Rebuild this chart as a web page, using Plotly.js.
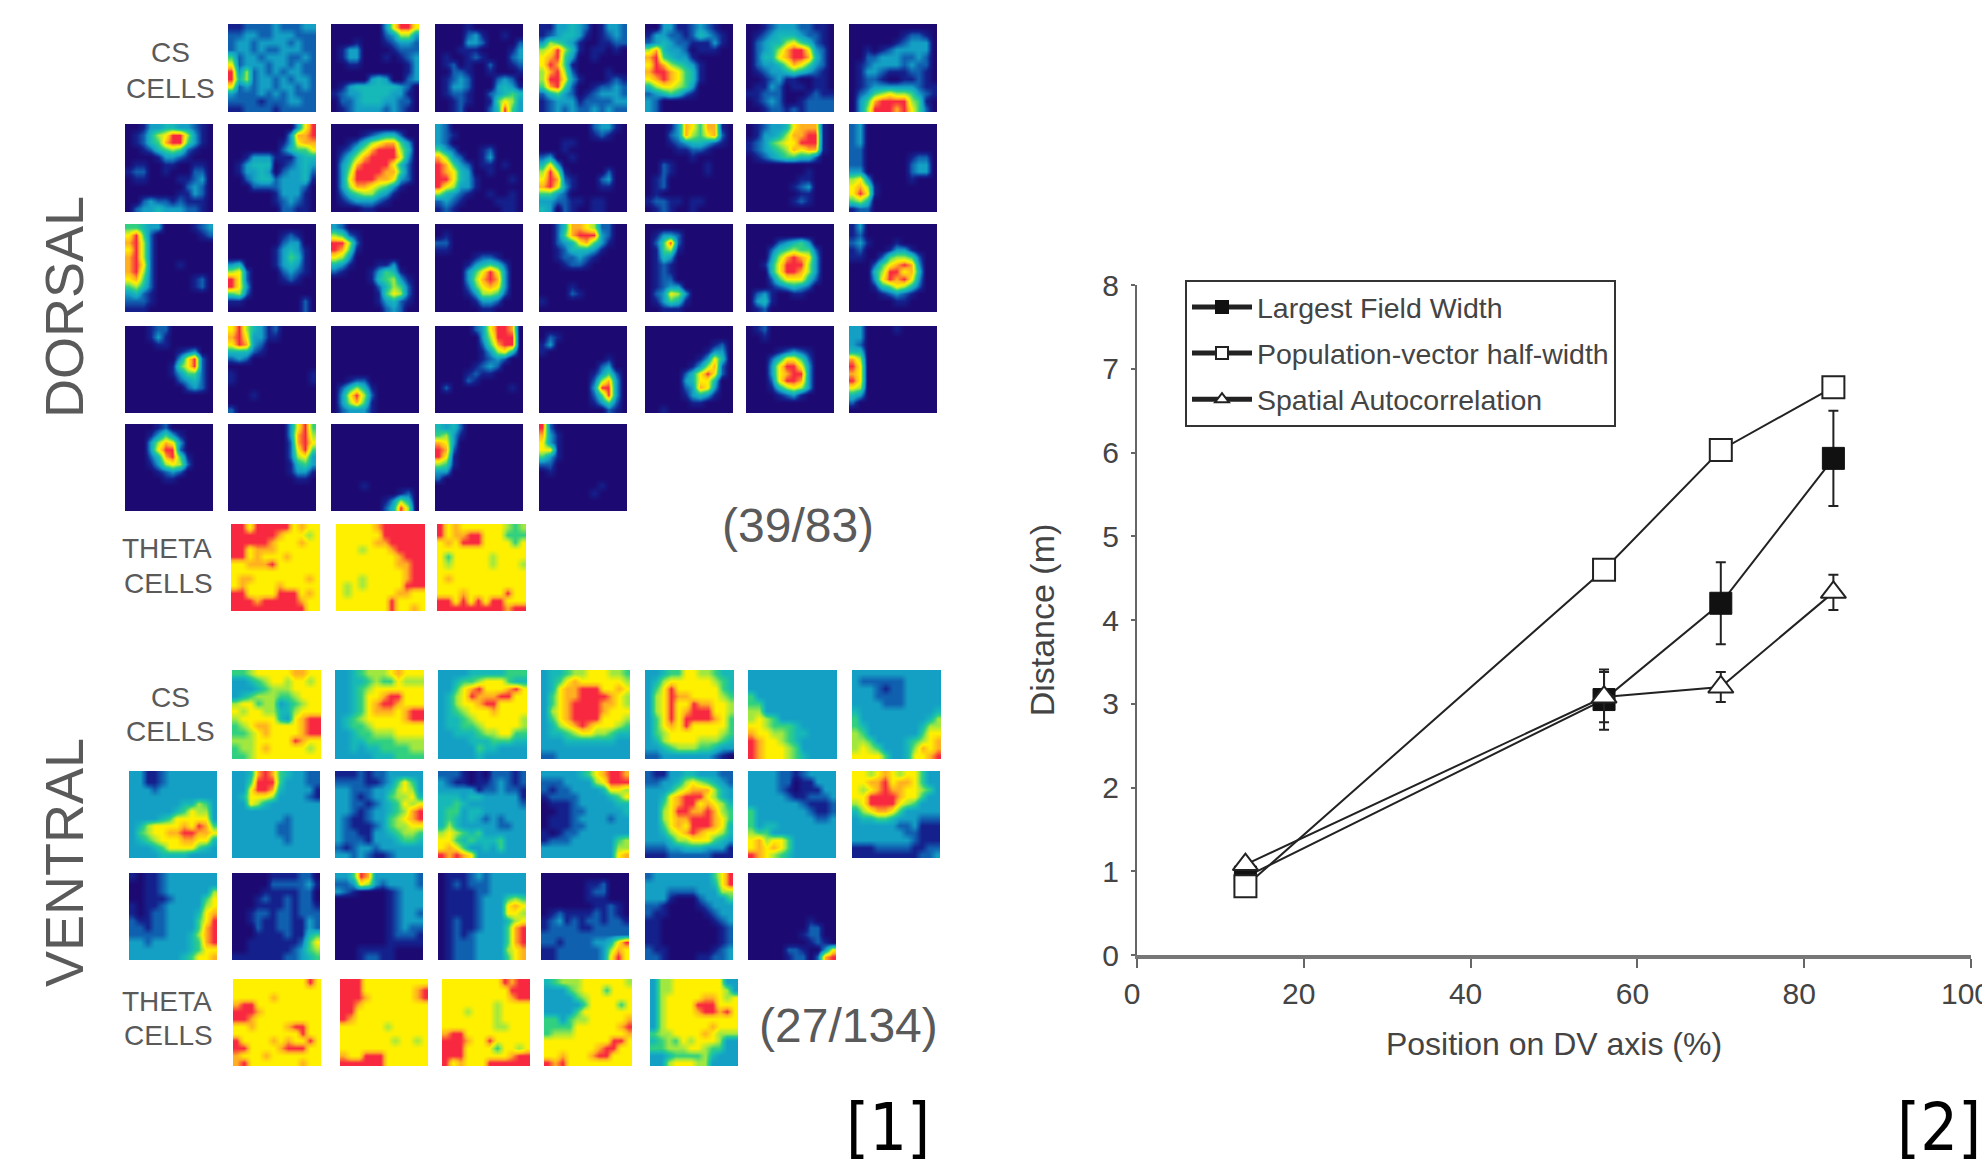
<!DOCTYPE html>
<html><head><meta charset="utf-8">
<script src="https://cdn.plot.ly/plotly-3.0.1.min.js"></script>
<style>html,body{margin:0;padding:0;background:#fff}#c{width:1982px;height:1167px}</style>
</head><body><div id="c"></div>
<script>
// --- Line chart values ---
const dvPosition = [13, 56, 70, 83.5];
const largestFieldWidth = [0.93, 3.05, 4.2, 5.93];
const largestFieldErr = [0.05, 0.36, 0.49, 0.57];
const populationVector = [0.82, 4.6, 6.03, 6.78];
const spatialAutocorr = [1.08, 3.08, 3.2, 4.33];
const spatialErr = [0.05, 0.3, 0.18, 0.21];
const seriesNames = ['Largest Field Width', 'Population-vector half-width', 'Spatial Autocorrelation'];
const xTicks = [0, 20, 40, 60, 80, 100];
const yTicks = [0, 1, 2, 3, 4, 5, 6, 7, 8];

// --- Firing-rate maps, 0 (navy) to 9 (red), one string per row ---
const dorsalCsRow1 = [
["112222322233","223322333222","233233332322","233232233322","523323332232","723332332322","936232323322","946233232332","723233233232","322232323222","222212223322","112222122222"],
["000000037997","000000023663","000100012332","013300001222","013300010123","001100000013","000000000013","000003430023","013444444320","123344443310","022344433220","012333323210"],
["000010000000","000023100100","000033200002","000111000013","010012100023","012010020012","002210010001","012320002320","013320003431","012210023454","001210015763","001200024953"],
["113343201332","123443101232","365431001122","679641011010","789530010000","798510000000","689620000100","699731000121","589520012232","245320123332","123331222233","123232232322"],
["003311232100","133221243210","234322111310","684332011100","895433100000","798654310000","899875410000","789875410000","467765300000","234542100000","320000000000","320000000000"],
["001233322110","012344432210","023446754210","023468997320","024478998420","023346875320","012334543210","001231100110","011320110110","112220001211","012320012222","001221212222"],
["000000000000","000000012210","000000123330","001012333330","002233322320","012333323220","013321112210","012210011210","012333333211","023567665321","035899996510","036999897520"]
];
const dorsalCsRow2 = [
["001334433210","012467996310","012458995310","001245652100","000013321000","011001100110","122001000220","011000011230","000000002320","000000011320","002322121110","023343332210"],
["000000000379","000000003889","000000013788","000000024557","001333111344","013444012343","013343023342","002344233341","000222233320","000000133310","000000123210","000000022110"],
["000000000000","000012344200","001246788530","012468999640","024689999730","035899997420","036999988520","037999887320","036887653100","024566431000","012333210000","000011000000"],
["320000000000","321000000000","320000000000","532000120000","863200130000","985320110100","987430010000","997431000010","976331000000","643210010010","232100001110","121000000110"],
["000000023310","000000012100","000110000000","000100000000","230010000000","473000000000","696100000200","798210002300","897310001100","553200000000","332211011000","430210011000"],
["000138758810","000238657820","000123443210","000011221000","000000100000","002100001000","002100001000","012000000000","012000000000","010000000000","122110110000","012100100000"],
["012334788810","013346889910","123567799910","123456878810","012345544200","000000000000","000000001000","000000011000","000000123000","000000011000","000000121000","000000000000"],
["230000000000","230000000000","230000000000","220000000000","220000001220","220000002330","330000002330","673000001000","786100000000","797100000000","564000000000","122000000000"]
];
const dorsalCsRow3 = [
["554330000123","795200000012","896200000000","796200000000","896200000000","897200010000","896200000000","785200000120","564200000120","342100000000","222100000000","111000000000"],
["000000000000","000000012100","000000023300","000000134310","000000135410","340000134310","672000023210","972000012100","973000000000","562000000000","110000000020","000000000020"],
["320000000000","652100000000","996200000000","985100000000","763000000000","431000113000","210001354100","000001456310","000000246520","000000157620","000000134210","000000023200"],
["000000000000","010000000000","220000000000","110000000000","000001221000","000013454200","000035797300","000036898300","000025787300","000013665200","000001332000","000000110000"],
["002488762200","002589993200","002347853100","001244431000","001223210000","000122100000","000000000000","000000000000","000010000000","000021000000","100000000000","000000000000"],
["000000000000","013320000000","025920000000","015610000000","014300000000","012100000000","012100000000","012200000000","012330000000","023763000000","013541000000","001110000000"],
["000000000000","000000000000","000023453000","000245655200","000368987300","001479996300","000479986300","000257774200","000123432000","023100110000","034100000000","012000000000"],
["130000000000","120000000000","231000100000","120001331000","110025665200","000257898300","000469978400","000379897300","000145764200","000012321000","000000110000","000000000000"]
];
const dorsalCsRow4 = [
["000122000000","000131000000","000011000000","000000012300","000000037920","000000157920","000000135520","000000023420","000000002320","000000000000","000000000000","000000000000"],
["796431200000","897331100000","798320000000","444210000000","232000000000","000000000000","100000000001","100000000001","000000000000","000100000000","000000000000","200000000000"],
["000000000000","000000000000","000000000000","000000000000","000000000000","000000000000","000000000000","001220000000","024641000000","037962000000","036851000000","023331000000"],
["000002379980","000000369990","000000258990","000000136740","000000123200","000001232000","000012110000","000021000000","020000000010","000000000000","000000000000","000000000000"],
["000000000000","021000000000","130000000000","100000000000","000000000100","000000002300","000000013520","000000026830","000000039930","000000025930","000000013520","000000000210"],
["000000000000","000000000000","000000000120","000000001330","000000013740","000000136820","000002479720","000003477400","000002387300","000001343100","000000110000","001000000000"],
["012000000000","001000000000","000000000000","000012321000","000247752000","000379973000","000378993000","000279983000","000146763000","000012310000","000000000000","000000000000"],
["330000100000","330000000000","320000000000","440000000000","860000000000","970000000000","870000000000","970000000000","760000000000","430000000000","200000000000","000000000000"]
];
const dorsalCsRow5 = [
["000012000000","000135310000","000368730000","000379920000","000248951000","000136762000","000012320000","000001100000","000000000000","000000000000","000000000000","000000000000"],
["000000003795","000000003896","000000002897","000000002795","000000002673","000000001453","000000001331","000000000110","000000000000","000000000000","000000000000","000000000000"],
["000000000000","000000000000","000000000000","000000000000","000000000000","000000000000","000000000000","000000000000","000010000000","000000000120","000000013640","000000024960"],
["434200000000","563100000000","873000000000","982000000000","971000000000","651000000000","330000000000","200000000000","000000000000","000000000000","000000000000","000000000000"],
["920000000000","831000000000","731000000000","771000000000","531000000000","220000000000","010000000000","000000000000","000000001000","000000010000","000000000000","000000000000"]
];
const dorsalTheta = [
["997999997877","999999877767","999998777877","997888777777","997877787777","778889777777","777777777777","788777777787","787777877777","997777999787","999899999877","999999999977"],
["777778999999","777777999999","777778899999","777677789999","777777778999","777777778899","777777777899","777677777899","767677777999","767777778877","777777797777","777777797787"],
["978777777656","978899777555","787999777757","777777777777","757777767777","767777767776","777777777777","787777777777","777777777777","777877777977","997979799777","999999999899"]
];
const ventralCsRow1 = [
["556777778877","334567767767","333456667777","345666556777","677566345677","767766446777","677777437899","567887777899","556787777899","666777779877","566787777767","556777777777"],
["334566678777","334456557666","334567777777","334577899777","334578998777","334578887899","345677777899","345567777777","334556667777","334455556666","334344555566","333334445555"],
["333344444555","334556777544","335789777897","346798889977","346778997777","345677787777","344567777776","344556777776","334445667755","333344455544","333335443333","333334333333"],
["344566777665","345787777776","347889997787","357889999876","357899998876","367899998777","357899997776","346789877765","344567766544","333444444433","333333333333","223333333333"],
["334557766544","346777777654","357977777754","367988777765","367977988776","367978999776","357979999875","357879777775","356777777765","346777766654","334566655433","223333333210"],
["333333333333","333333333333","333333333333","533333333333","553333333333","663333333333","676533333333","776555433333","877665443333","987765433333","987776533333","987776543333"],
["333333333333","322222233333","333212233333","333222233333","333322233333","433333333334","533333333346","543333333466","653333333577","665333345678","676533346878","777753347789"]
];
const ventralCsRow2 = [
["331123333333","331123333333","333233333333","333333333333","333333344653","333333457663","333345777773","346777787985","356778899887","345677788774","333457777543","333344443333"],
["334898543322","335999533322","337998433331","347776333321","337643333333","333333333333","333333323333","333333223333","333333223333","333333323333","333333333333","333333333333"],
["111212233333","222211235753","332223346763","332123356674","332212345767","332123345689","321123356789","321112356677","322113345665","322213334554","212332333333","332321123333"],
["222101022212","321101123212","333331223221","444344333331","445433333332","455344333333","454343232333","464333332233","676545333333","775454445333","787533435333","989873333333"],
["333334578998","222333367999","212233334776","122223333457","011123333344","001122333334","011123333233","011122333333","101223333333","122233333356","333333333366","333333333378"],
["211334433322","223346765432","333467888643","334789997643","335789978764","336799889865","336788999875","335787999874","334678987764","333466777543","222334443331","111222222111"],
["333322123333","333322011333","333321011133","333332112223","333333321112","533333332112","533333333223","534433333333","655333333333","786775333333","787875333333","987654333333"],
["776787677533","778897887533","767898877653","779999877533","679999765333","467887533333","344554333222","333333223111","333333322111","333333332111","111222221122","111111111223"]
];
const ventralCsRow3 = [
["101123333333","001123333333","001123333336","001112333357","101123333367","101223333478","211223333579","221223333589","222223334689","332333334589","333333334577","333333345778"],
["000001111220","000002222231","000011111220","000121121220","000111121221","001221221222","001211221132","000211221132","000111121145","001111111257","001111112356","111111122345"],
["335983333332","223763233332","321000012333","000000012333","000000012333","000000012332","000000012333","000000012322","000000012221","000000011111","000111110000","000122110000"],
["011123233333","012122233333","011112233333","011112333565","011112333787","011112333776","012112333467","012112333589","012123333589","012223333589","012223333678","012223333578"],
["000000000000","000000112000","000000122000","000000111000","000000011210","012111121210","123121221221","122221122222","222222222222","221222233479","112222223687","112222223797"],
["233333333579","333333333479","333222233366","333100023335","221000012333","211000001233","110000000123","110000000012","110000000012","110000000012","211000000123","221000011223"],
["000000000000","000000000000","000000000000","000000000000","000000000000","000000000000","000000001000","000000002200","000000012200","000000001210","000002210037","000001220289"]
];
const ventralTheta = [
["777777777797","777777777777","777778777777","899777777777","999877777777","998777777777","778777789977","777777777977","977778787797","997777899977","877787777777","897777777877"],
["999777777777","999777777789","999877777789","998777777777","997777777777","987777777777","777777677777","777777777777","777777767767","777777777777","877999777777","999999777777"],
["777777779899","777777777999","777777777899","777777767777","777677767777","777777767777","777777766777","899777777777","999877977777","999777757767","999777777899","978777999999"],
["456667777776","333567775777","333356777777","333335777757","333357777777","553566777778","555577777789","566677777778","777777777997","777777789977","778777899777","989777777777"],
["366777777733","366777777763","367777788767","367777999777","367777899897","367777777777","367777778777","566777787666","456576777633","556667765533","334555564333","336777663333"]
];

// --- Placement of each group: pixel box rows [left edges], width, top, height ---
const W = 1982, H = 1167;
const colA = [125, 228, 331, 435, 539, 645, 746, 849];
const colB = [129, 232, 335, 438, 541, 645, 748, 852];
const groups = [
 {maps: dorsalCsRow1, xs: colA.slice(1), top: 24, w: 88, h: 88},
 {maps: dorsalCsRow2, xs: colA, top: 124, w: 88, h: 88},
 {maps: dorsalCsRow3, xs: colA, top: 224, w: 88, h: 88},
 {maps: dorsalCsRow4, xs: colA, top: 326, w: 88, h: 87},
 {maps: dorsalCsRow5, xs: colA.slice(0, 5), top: 424, w: 88, h: 87},
 {maps: dorsalTheta, xs: [231, 336, 437], top: 524, w: 89, h: 87},
 {maps: ventralCsRow1, xs: colB.slice(1), top: 670, w: 89, h: 89},
 {maps: ventralCsRow2, xs: colB, top: 771, w: 88, h: 87},
 {maps: ventralCsRow3, xs: colB.slice(0, 7), top: 873, w: 88, h: 87},
 {maps: ventralTheta, xs: [233, 340, 442, 544, 650], top: 979, w: 88, h: 87}
];
const colorStops = ['#1c0a72','#14208c','#1060b0','#14a0c4','#16b8b8','#30d080','#a0e840','#fff000','#ffb020','#f82840'];
const rateScale = colorStops.map((c, i) => [i / (colorStops.length - 1), c]);

const axisLine = '#666', inkText = '#444', labelGray = '#5a5a5a';
const base = 'Liberation Sans, Arial, sans-serif';

const traces = [];
const layout = {
  width: W, height: H, margin: {l: 0, r: 0, t: 0, b: 0},
  paper_bgcolor: '#fff', plot_bgcolor: '#fff',
  font: {family: base, color: inkText},
  showlegend: true,
  legend: {x: 1185 / W, y: 1 - 280 / H, xanchor: 'left', yanchor: 'top', bordercolor: '#333', borderwidth: 2,
           bgcolor: '#fff', font: {size: 28.5, color: inkText, family: base}, itemwidth: 60, tracegroupgap: 6, itemsizing: 'constant'},
  xaxis: {domain: [1137 / W, 1971 / W], range: [0, 100], tickvals: xTicks, ticks: 'outside', ticklen: 9, tickcolor: axisLine, tickwidth: 2,
          showline: true, linecolor: '#777', linewidth: 4, showgrid: false, zeroline: false, tickfont: {size: 30, color: inkText}, anchor: 'y',
          ticklabeloverflow: 'allow', ticklabelshift: -5,
          title: {text: '\u00a0\u00a0\u00a0\u00a0Position on DV axis (%)', font: {size: 32, color: inkText}, standoff: 25}},
  yaxis: {domain: [1 - 955 / H, 1 - 285 / H], range: [0, 8], tickvals: yTicks, ticks: 'outside', ticklen: 4, tickcolor: axisLine, tickwidth: 2,
          showline: true, linecolor: axisLine, linewidth: 2, showgrid: false, zeroline: false, tickfont: {size: 30, color: inkText}, anchor: 'x',
          ticklabelstandoff: 6,
          title: {text: 'Distance (m)', font: {size: 34, color: inkText}, standoff: 37}},
  annotations: []
};

let n = 2;
groups.forEach(g => g.maps.forEach((rows, i) => {
  const z = rows.map(r => r.split('').map(Number));
  const left = g.xs[i];
  layout['xaxis' + n] = {domain: [left / W, (left + g.w) / W], visible: false, fixedrange: true, anchor: 'y' + n};
  layout['yaxis' + n] = {domain: [1 - (g.top + g.h) / H, 1 - g.top / H], visible: false, fixedrange: true, autorange: 'reversed', anchor: 'x' + n};
  traces.push({type: 'heatmap', z, xaxis: 'x' + n, yaxis: 'y' + n, zmin: 0, zmax: 9, colorscale: rateScale,
               showscale: false, zsmooth: 'best', hoverinfo: 'skip', showlegend: false});
  n++;
}));

const ink = '#222';
traces.push({type: 'scatter', mode: 'lines+markers', name: seriesNames[0], legendgroup: 'a', x: dvPosition, y: largestFieldWidth,
  error_y: {type: 'data', array: largestFieldErr, color: ink, thickness: 2, width: 5},
  line: {color: ink, width: 2}, marker: {symbol: 'square', size: 22, color: '#111', line: {color: '#111', width: 1}}});
traces.push({type: 'scatter', mode: 'lines+markers', name: seriesNames[1], legendgroup: 'b', x: dvPosition, y: populationVector,
  line: {color: ink, width: 2}, marker: {symbol: 'square', size: 22, color: '#fff', line: {color: ink, width: 2}}});
traces.push({type: 'scatter', mode: 'lines+markers', name: seriesNames[2], legendgroup: 'c', x: dvPosition, y: spatialAutocorr,
  error_y: {type: 'data', array: spatialErr, color: ink, thickness: 2, width: 5},
  line: {color: ink, width: 2}, marker: {symbol: 'triangle-up', size: 22, color: '#fff', line: {color: ink, width: 2}}});

function note(text, px, py, size, extra) {
  layout.annotations.push(Object.assign({text, xref: 'paper', yref: 'paper', x: px / W, y: 1 - py / H,
    xanchor: 'center', yanchor: 'middle', showarrow: false, font: {size, color: labelGray, family: base}}, extra || {}));
}
note('CS', 170, 53, 28); note('CELLS', 170, 88, 28);
note('THETA', 167, 548, 28); note('CELLS', 168, 583, 28);
note('CS', 170, 697, 28); note('CELLS', 170, 731, 28);
note('THETA', 167, 1001, 28); note('CELLS', 168, 1035, 28);
note('DORSAL', 64, 307, 54, {textangle: -90});
note('VENTRAL', 64, 863, 54, {textangle: -90});
note('(39/83)', 798, 525, 48);
note('(27/134)', 848, 1025, 48);
const bracketFont = {size: 66, color: '#000', family: 'DejaVu Sans Condensed, DejaVu Sans'};
note('[1]', 888, 1127, 66, {font: bracketFont});
note('[2]', 1939, 1127, 66, {font: bracketFont});

Plotly.newPlot('c', traces, layout, {staticPlot: true, displayModeBar: false});
</script></body></html>
